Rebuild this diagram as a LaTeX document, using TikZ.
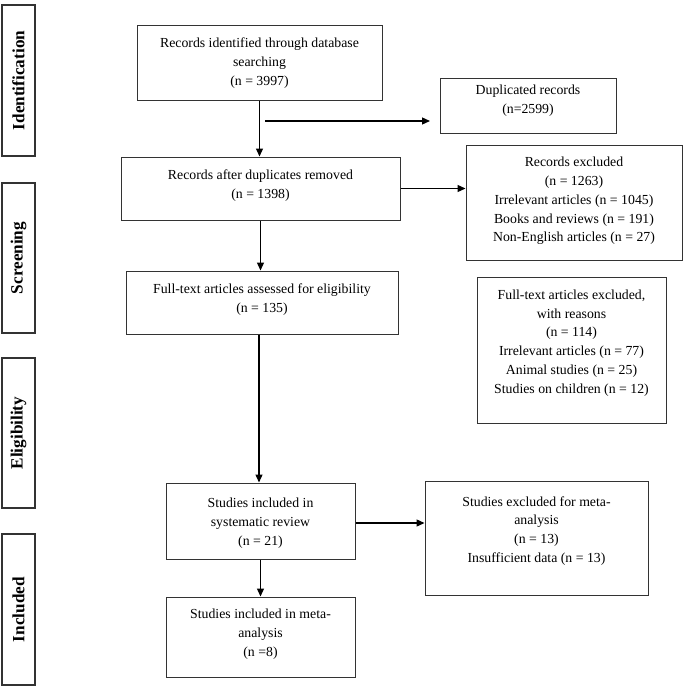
\documentclass[tikz,border=0pt]{standalone}
\usepackage{fontspec}
\setmainfont{Liberation Serif}
\usetikzlibrary{arrows.meta}
\begin{document}
\begin{tikzpicture}[x=1pt,y=-1pt,
  box/.style={draw=black!80, line width=1pt, minimum width=#1, inner sep=0pt},
  txt/.style={align=center, font=\fontsize{13.8}{18.8}\selectfont, inner sep=0pt},
  side/.style={draw=black!80, line width=1.3pt, minimum width=33pt, inner sep=0pt, rotate=90, font=\fontsize{17.2}{19}\selectfont\bfseries},
  arr/.style={line width=1.3pt, -{Triangle[length=8pt,width=7pt]}}]
\useasboundingbox (0,0) rectangle (685,686);
% phase labels
\node[side, minimum width=151pt, minimum height=33pt] (id) at (18.5,80.5) {Identification};
\node[side, minimum width=150pt, minimum height=33pt] (sc) at (18.5,258) {Screening};
\node[side, minimum width=150pt, minimum height=33pt] (el) at (18.5,433) {Eligibility};
\node[side, minimum width=151pt, minimum height=33pt] (in) at (18.5,609.5) {Included};
% boxes
\node[box=245pt, minimum height=75pt] (b1) at (259.5,62.5) {};
\node[txt] at (259.5,63) {Records identified through database\\searching\\(n = 3997)};
\node[box=176pt, minimum height=55pt] (dup) at (528,105.5) {};
\node[txt] at (528,101) {Duplicated records\\(n=2599)};
\node[box=279pt, minimum height=63pt] (b2) at (260.5,188.5) {};
\node[txt] at (260.5,186) {Records after duplicates removed\\(n = 1398)};
\node[box=216pt, minimum height=115pt] (rex) at (574,202.5) {};
\node[txt] at (574,201) {Records excluded\\(n = 1263)\\Irrelevant articles (n = 1045)\\Books and reviews (n = 191)\\Non-English articles (n = 27)};
\node[box=272pt, minimum height=63pt] (b3) at (262,302.5) {};
\node[txt] at (262,300) {Full-text articles assessed for eligibility\\(n = 135)};
\node[box=189pt, minimum height=146pt] (fex) at (571.5,350) {};
\node[txt] at (571.5,343) {Full-text articles excluded,\\with reasons\\(n = 114)\\Irrelevant articles (n = 77)\\Animal studies (n = 25)\\Studies on children (n = 12)};
\node[box=189pt, minimum height=76pt] (b4) at (260.5,521) {};
\node[txt] at (260.5,523) {Studies included in\\systematic review\\(n = 21)};
\node[box=223pt, minimum height=114pt] (sex) at (536.5,538) {};
\node[txt] at (536.5,531) {Studies excluded for meta-\\analysis\\(n = 13)\\Insufficient data (n = 13)};
\node[box=189pt, minimum height=80pt] (b5) at (260.5,637) {};
\node[txt] at (260.5,634) {Studies included in meta-\\analysis\\(n =8)};
% connectors
\coordinate (brs) at (265,121);
\coordinate (bre) at (430,121);
\draw[arr] (b1.south) -- (b1.south |- b2.north);
\draw[arr] (brs) -- (bre);
\draw[arr] (b2.east) -- (b2.east -| rex.west);
\draw[arr] (b2.south) -- (b2.south |- b3.north);
\draw[arr] ([xshift=-3pt]b3.south) -- ([xshift=-3pt]b3.south |- b4.north);
\draw[arr] ([yshift=-2pt]b4.east) -- ([yshift=-2pt]b4.east -| sex.west);
\draw[arr] (b4.south) -- (b4.south |- b5.north);
\end{tikzpicture}
\end{document}
